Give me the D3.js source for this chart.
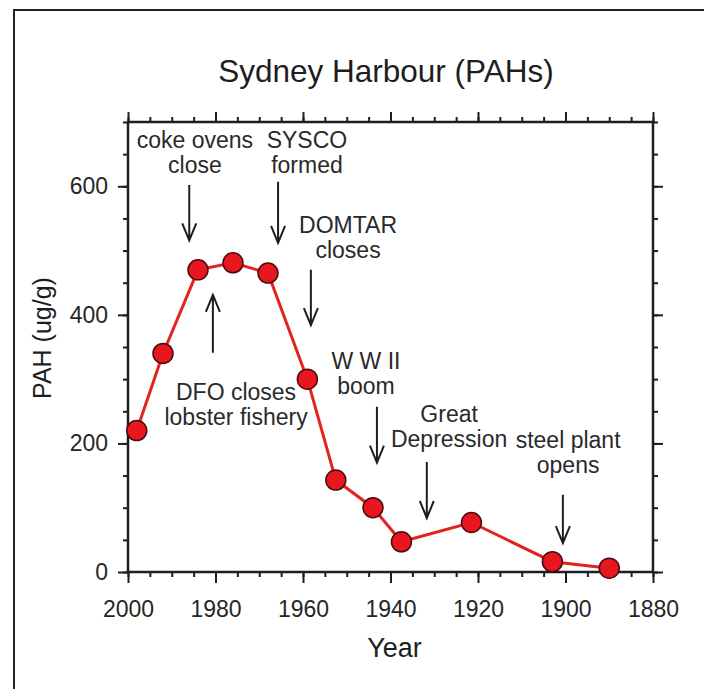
<!DOCTYPE html>
<html>
<head>
<meta charset="utf-8">
<script src="https://d3js.org/d3.v7.min.js"></script>
<style>
    body { margin: 0; background: #fff; }
    svg { display: block; }
</style>
</head>
<body>
<div id="chart"></div>
<script>
// Sediment core PAH concentrations
const years = [1998, 1992, 1984, 1976, 1968, 1959, 1952.5, 1944, 1937.5, 1921.5, 1903, 1890];
const pah = [220, 340, 470, 481, 465, 300, 143, 100, 47, 77, 16, 6];

const xTicks = [2000, 1980, 1960, 1940, 1920, 1900, 1880];
const yTicks = [0, 200, 400, 600];

// Historical events: arrow at a year, pointing from one value to another
const eventLabels = [["coke ovens", "close"], ["SYSCO", "formed"], ["DOMTAR", "closes"],
    ["DFO closes", "lobster fishery"], ["W W II", "boom"], ["Great", "Depression"], ["steel plant", "opens"]];
const eventYears = [1986, 1965.7, 1958.2, 1980.6, 1943.1, 1931.7, 1900.6];
const arrowFrom = [602, 607, 470, 341, 257, 171, 120];
const arrowTo = [516, 512, 384, 431, 170, 84, 45];
const labelYears = [1984.7, 1959.1, 1949.7, 1975.3, 1945.6, 1926.6, 1899.4];
const labelValues = [660, 660, 527, 267, 316, 233, 193];

(function() {
    const width = 704, height = 689;
    const margin = { top: 122, right: 51, bottom: 117, left: 128 };

    const svg = d3.select("#chart").append("svg")
        .attr("width", width)
        .attr("height", height);

    // outer frame of the figure panel
    svg.append("rect")
        .attr("x", 14).attr("y", 10)
        .attr("width", 720).attr("height", 720)
        .attr("fill", "none")
        .attr("stroke", "#222")
        .attr("stroke-width", 2);

    const x = d3.scaleLinear().domain([2000, 1880]).range([margin.left, width - margin.right]);
    const y = d3.scaleLinear().domain([0, 700]).range([height - margin.bottom, margin.top]);

    const font = "'Liberation Sans', Arial, sans-serif";
    const ink = "#1e1e1e";

    // --- AXES (major + minor ticks on all four sides) ---
    const minorX = d3.range(2000, 1879, -5);
    const minorY = d3.range(0, 701, 50);

    function styleAxis(g) {
        g.select(".domain").remove();
        g.selectAll("line").attr("stroke", ink).attr("stroke-width", 2);
        g.selectAll("text").attr("fill", "#262626").style("font-family", font).style("font-size", "23px");
    }

    const b = y(0), t = y(700), l = x(2000), r = x(1880);

    svg.append("g").attr("transform", `translate(0,${b})`)
        .call(d3.axisBottom(x).tickValues(minorX).tickSize(5).tickFormat(""))
        .call(styleAxis);
    svg.append("g").attr("transform", `translate(0,${b})`)
        .call(d3.axisBottom(x).tickValues(xTicks).tickSize(11).tickPadding(18).tickFormat(d3.format("d")))
        .call(styleAxis);
    svg.append("g").attr("transform", `translate(0,${t})`)
        .call(d3.axisTop(x).tickValues(minorX).tickSize(5).tickFormat(""))
        .call(styleAxis);
    svg.append("g").attr("transform", `translate(0,${t})`)
        .call(d3.axisTop(x).tickValues(xTicks).tickSize(10).tickFormat(""))
        .call(styleAxis);

    svg.append("g").attr("transform", `translate(${l},0)`)
        .call(d3.axisLeft(y).tickValues(minorY).tickSize(5).tickFormat(""))
        .call(styleAxis);
    svg.append("g").attr("transform", `translate(${l},0)`)
        .call(d3.axisLeft(y).tickValues(yTicks).tickSize(10).tickPadding(10))
        .call(styleAxis);
    svg.append("g").attr("transform", `translate(${r},0)`)
        .call(d3.axisRight(y).tickValues(minorY).tickSize(5).tickFormat(""))
        .call(styleAxis);
    svg.append("g").attr("transform", `translate(${r},0)`)
        .call(d3.axisRight(y).tickValues(yTicks).tickSize(10).tickFormat(""))
        .call(styleAxis);

    svg.append("rect")
        .attr("x", l).attr("y", t)
        .attr("width", r - l).attr("height", b - t)
        .attr("fill", "none")
        .attr("stroke", ink)
        .attr("stroke-width", 2.5);

    // --- TITLES ---
    svg.append("text")
        .attr("x", 386).attr("y", 82)
        .attr("text-anchor", "middle")
        .style("font-family", font).style("font-size", "31.5px")
        .attr("fill", ink)
        .text("Sydney Harbour (PAHs)");

    svg.append("text")
        .attr("x", (l + r) / 2 + 4).attr("y", 657)
        .attr("text-anchor", "middle")
        .style("font-family", font).style("font-size", "27px")
        .attr("fill", ink)
        .text("Year");

    svg.append("text")
        .attr("transform", `translate(51,${(b + t) / 2 - 9}) rotate(-90)`)
        .attr("text-anchor", "middle")
        .style("font-family", font).style("font-size", "25px")
        .attr("fill", ink)
        .text("PAH (ug/g)");

    // --- EVENT ANNOTATIONS ---
    eventLabels.forEach((lines, i) => {
        const ax = x(eventYears[i]);
        const y1 = y(arrowFrom[i]), y2 = y(arrowTo[i]);
        const dir = y2 > y1 ? 1 : -1;

        svg.append("path")
            .attr("d", `M${ax},${y1}L${ax},${y2}M${ax - 7},${y2 - dir * 17}L${ax},${y2}L${ax + 7},${y2 - dir * 17}`)
            .attr("fill", "none")
            .attr("stroke", ink)
            .attr("stroke-width", 2);

        const txt = svg.append("text")
            .attr("x", x(labelYears[i]))
            .attr("y", y(labelValues[i]))
            .attr("text-anchor", "middle")
            .style("font-family", font).style("font-size", "23px")
            .attr("fill", "#2a2a2a");
        lines.forEach((s, j) => {
            txt.append("tspan")
                .attr("x", x(labelYears[i]))
                .attr("dy", j === 0 ? 0 : 25)
                .text(s);
        });
    });

    // --- DATA LINE AND MARKERS ---
    const pts = years.map((yr, i) => [yr, pah[i]]);

    svg.append("path")
        .datum(pts)
        .attr("fill", "none")
        .attr("stroke", "#e2231f")
        .attr("stroke-width", 3)
        .attr("d", d3.line().x(d => x(d[0])).y(d => y(d[1])));

    svg.append("g")
        .selectAll("circle")
        .data(pts)
        .join("circle")
        .attr("cx", d => x(d[0]))
        .attr("cy", d => y(d[1]))
        .attr("r", 10)
        .attr("fill", "#e8161e")
        .attr("stroke", "#4a0c0c")
        .attr("stroke-width", 1.5);
})();
</script>
</body>
</html>
